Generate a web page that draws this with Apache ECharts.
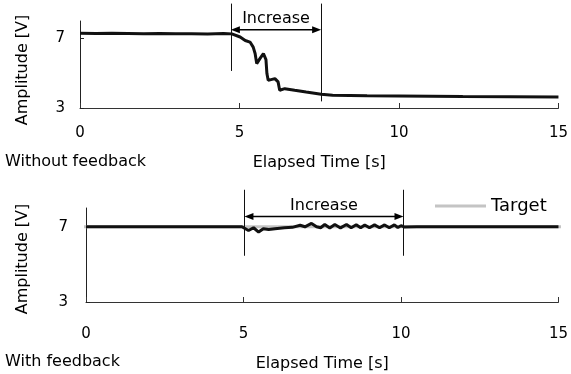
<!DOCTYPE html>
<html>
<head>
<meta charset="utf-8">
<script src="https://cdn.jsdelivr.net/npm/echarts@6/dist/echarts.min.js"></script>
<style>
  html, body { margin: 0; padding: 0; background: #fff; }
  #chart { width: 571px; height: 374px; }
</style>
</head>
<body>
<div id="chart"></div>
<script>
// Amplitude vs time, without feedback (top) and with feedback (bottom).
const xTicks = [0, 5, 10, 15];
const yTicks = [3, 7];

// [time s, amplitude V]
const noFeedback = [
  [0, 7.3], [0.5, 7.28], [1, 7.29], [1.5, 7.28], [2, 7.27], [2.5, 7.28],
  [3, 7.27], [3.5, 7.27], [4, 7.26], [4.5, 7.28], [4.76, 7.26], [5.02, 7.08],
  [5.18, 6.88], [5.33, 6.79], [5.43, 6.5], [5.49, 6.13], [5.54, 5.55],
  [5.64, 5.84], [5.75, 6.13], [5.83, 5.78], [5.86, 4.98], [5.9, 4.59],
  [6.11, 4.69], [6.21, 4.5], [6.26, 4.02], [6.42, 4.11], [6.73, 4.02],
  [7.09, 3.92], [7.56, 3.79], [7.92, 3.73], [9, 3.7], [10, 3.69],
  [12, 3.66], [15, 3.63],
];

const withFeedback = [
  [0, 7.0], [1, 7.0], [2, 7.0], [3, 7.0], [4, 7.0], [4.95, 7.0], [5.0, 6.97],
  [5.16, 6.8], [5.32, 6.95], [5.48, 6.72], [5.63, 6.9], [5.8, 6.86], [6.0, 6.9],
  [6.3, 6.95], [6.55, 6.97], [6.8, 7.08], [6.95, 7.0], [7.16, 7.18], [7.32, 7.0],
  [7.45, 6.95], [7.58, 7.12], [7.74, 6.94], [7.9, 7.12], [8.08, 6.94],
  [8.27, 7.12], [8.42, 6.95], [8.58, 7.11], [8.72, 6.95], [8.85, 7.1],
  [9.0, 6.95], [9.16, 7.1], [9.32, 6.95], [9.48, 7.1], [9.63, 6.95],
  [9.79, 7.1], [9.9, 6.96], [10.0, 7.06], [10.1, 6.99], [10.5, 7.0],
  [12, 7.0], [13.5, 7.0], [15, 7.0],
];
const target = [[-0.23, 7], [15.1, 7]];

// annotation marks: [time, top V, bottom V] and [from time, to time, V]
const topVLines = [[4.73, 9.0, 5.13], [7.56, 9.0, 3.38]];
const topArrow = [[4.73, 7.56, 7.5]];
const botVLines = [[5.03, 8.97, 5.46], [10.08, 8.97, 5.46]];
const botArrow = [[5.03, 10.08, 7.55]];
const arrowLabel = "Increase";

const FONT = "'DejaVu Sans', sans-serif";
const INK = "#000";

function xAxis(grid, margin, gap) {
  return {
    type: "value", gridIndex: grid, min: 0, max: 15, interval: 5,
    name: "Elapsed Time [s]", nameLocation: "middle", nameGap: gap,
    nameTextStyle: { fontFamily: FONT, fontSize: 16, color: INK },
    axisLine: { lineStyle: { color: "#333", width: 1 } },
    axisTick: { inside: true, length: 5, lineStyle: { color: "#333" } },
    axisLabel: { margin, fontFamily: FONT, fontSize: 15, color: INK,
      customValues: xTicks },
    splitLine: { show: false },
  };
}

function yAxis(grid, margin) {
  return {
    type: "value", gridIndex: grid, min: 3, max: 8, interval: 1,
    axisLine: { show: true, lineStyle: { color: "#222", width: 1 } },
    axisTick: { show: true, inside: true, length: 4, customValues: yTicks,
      lineStyle: { color: "#222" } },
    axisLabel: { margin, fontFamily: FONT, fontSize: 15, color: INK,
      customValues: yTicks },
    splitLine: { show: false },
  };
}

function vlineSeries(grid, data) {
  return {
    type: "custom", xAxisIndex: grid, yAxisIndex: grid, clip: false, silent: true,
    data, z: 5,
    renderItem(params, api) {
      const a = api.coord([api.value(0), api.value(1)]);
      const b = api.coord([api.value(0), api.value(2)]);
      const x = Math.round(a[0]) + 0.5;
      return { type: "line", shape: { x1: x, y1: a[1], x2: x, y2: b[1] },
        style: { stroke: "#111", lineWidth: 1 } };
    },
  };
}

function arrowSeries(grid, data) {
  return {
    type: "custom", xAxisIndex: grid, yAxisIndex: grid, clip: false, silent: true,
    data, z: 6,
    renderItem(params, api) {
      const a = api.coord([api.value(0), api.value(2)]);
      const b = api.coord([api.value(1), api.value(2)]);
      const L = 9, W = 3.5;
      return {
        type: "group",
        children: [
          { type: "line", shape: { x1: a[0] + 4, y1: a[1], x2: b[0] - 4, y2: b[1] },
            style: { stroke: "#000", lineWidth: 1.6 } },
          { type: "polygon", shape: { points: [[a[0], a[1]], [a[0] + L, a[1] - W], [a[0] + L, a[1] + W]] },
            style: { fill: "#000" } },
          { type: "polygon", shape: { points: [[b[0], b[1]], [b[0] - L, b[1] - W], [b[0] - L, b[1] + W]] },
            style: { fill: "#000" } },
          { type: "text", style: { text: arrowLabel, x: (a[0] + b[0]) / 2, y: a[1] - 11,
            align: "center", verticalAlign: "middle",
            font: "16px " + FONT, fill: INK } },
        ],
      };
    },
  };
}

const chart = echarts.init(document.getElementById("chart"), null, { renderer: "canvas" });
chart.setOption({
  animation: false,
  backgroundColor: "#fff",
  grid: [
    { left: 80, top: 21, width: 483, height: 87 },
    { left: 86, top: 208, width: 476, height: 94 },
  ],
  xAxis: [xAxis(0, 18, 47), xAxis(1, 25, 54)],
  yAxis: [yAxis(0, 15), yAxis(1, 18)],
  legend: {
    data: ["Target"], left: 435, top: 197, padding: 0,
    icon: "rect", itemWidth: 51, itemHeight: 3, itemGap: 4,
    textStyle: { fontFamily: FONT, fontSize: 18, color: INK },
  },
  graphic: [
    { type: "text", x: 23, y: 70, rotation: Math.PI / 2,
      style: { text: "Amplitude [V]", align: "center", verticalAlign: "middle",
        font: "16px " + FONT, fill: INK } },
    { type: "text", x: 23, y: 259, rotation: Math.PI / 2,
      style: { text: "Amplitude [V]", align: "center", verticalAlign: "middle",
        font: "16px " + FONT, fill: INK } },
    { type: "text", x: 5, y: 162,
      style: { text: "Without feedback", align: "left", verticalAlign: "middle",
        font: "16px " + FONT, fill: INK } },
    { type: "text", x: 5, y: 362,
      style: { text: "With feedback", align: "left", verticalAlign: "middle",
        font: "16px " + FONT, fill: INK } },
  ],
  series: [
    { name: "No feedback", type: "line", xAxisIndex: 0, yAxisIndex: 0,
      data: noFeedback, showSymbol: false, z: 3,
      lineStyle: { color: "#111", width: 3 } },
    { name: "Target", type: "line", xAxisIndex: 1, yAxisIndex: 1,
      data: target, showSymbol: false, clip: false, z: 2,
      itemStyle: { color: "#c4c4c4" },
      lineStyle: { color: "#c4c4c4", width: 3 } },
    { name: "With feedback", type: "line", xAxisIndex: 1, yAxisIndex: 1,
      data: withFeedback, showSymbol: false, z: 3,
      lineStyle: { color: "#111", width: 3 } },
    vlineSeries(0, topVLines), arrowSeries(0, topArrow),
    vlineSeries(1, botVLines), arrowSeries(1, botArrow),
  ],
});
</script>
</body>
</html>
